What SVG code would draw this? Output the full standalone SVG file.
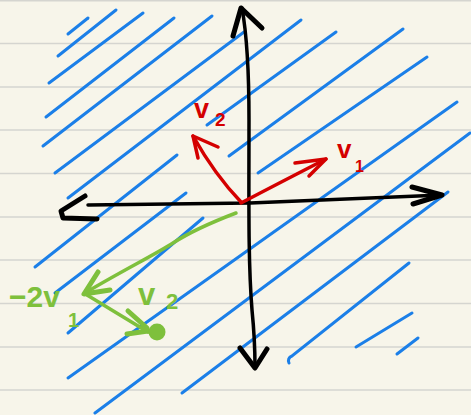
<svg xmlns="http://www.w3.org/2000/svg" width="471" height="415" viewBox="0 0 471 415">
<style>
.rule{stroke:#d5d5d0;stroke-width:1.6}
.hatch line,.hatch path{stroke:#1b7fe8;stroke-width:3;stroke-linecap:round;fill:none}
.ax{stroke:#000;stroke-width:3.5;fill:none;stroke-linecap:round;stroke-linejoin:round}
.axh{stroke:#000;stroke-width:5;fill:none;stroke-linecap:round;stroke-linejoin:round}
.red{stroke:#d40000;stroke-width:3.5;fill:none;stroke-linecap:round;stroke-linejoin:round}
.grn{stroke:#7ec03c;stroke-width:3.5;fill:none;stroke-linecap:round;stroke-linejoin:round}
.tr{fill:#d40000;font-family:"Liberation Sans",sans-serif;font-weight:bold}
.tg{fill:#7ec03c;font-family:"Liberation Sans",sans-serif;font-weight:bold}
</style>
<rect width="471" height="415" fill="#f7f5ea"/>
<g id="ruling">
<line class="rule" x1="0" y1="0.8" x2="471" y2="0.8"/>
<line class="rule" x1="0" y1="43.5" x2="471" y2="43.5"/>
<line class="rule" x1="0" y1="87" x2="471" y2="87"/>
<line class="rule" x1="0" y1="130" x2="471" y2="130"/>
<line class="rule" x1="0" y1="173.5" x2="471" y2="173.5"/>
<line class="rule" x1="0" y1="217" x2="471" y2="217"/>
<line class="rule" x1="0" y1="260" x2="471" y2="260"/>
<line class="rule" x1="0" y1="303.5" x2="471" y2="303.5"/>
<line class="rule" x1="0" y1="347" x2="471" y2="347"/>
<line class="rule" x1="0" y1="390" x2="471" y2="390"/>
</g>
<g id="hatch" class="hatch">
<line x1="68" y1="34" x2="88" y2="18"/>
<line x1="58" y1="56" x2="116" y2="10"/>
<line x1="49" y1="83" x2="143" y2="13"/>
<line x1="46" y1="117" x2="174" y2="18"/>
<line x1="43" y1="146" x2="212" y2="16"/>
<line x1="55" y1="173" x2="244" y2="32"/>
<line x1="68" y1="198" x2="301" y2="20"/>
<line x1="35" y1="267" x2="177" y2="155"/>
<line x1="207" y1="125" x2="336" y2="32"/>
<line x1="55" y1="293" x2="186" y2="193"/>
<line x1="229" y1="156" x2="403" y2="29"/>
<line x1="68" y1="333" x2="203" y2="218"/>
<line x1="258" y1="173" x2="427" y2="57"/>
<line x1="68" y1="378" x2="457" y2="102"/>
<line x1="95" y1="413" x2="470" y2="133"/>
<line x1="182" y1="393" x2="448" y2="192"/>
<path d="M289,363 Q287,358 292,356 L409,263"/>
<line x1="356" y1="347" x2="412" y2="313"/>
<line x1="397" y1="354" x2="418" y2="338"/>
</g>
<g id="axes">
<path class="ax" d="M88,205 L250,203 L442,195"/>
<path class="axh" d="M412,187 L442,195 L413,204"/>
<path class="axh" d="M85,196 L61,211 L63,218 L97,219"/>
<path class="ax" d="M242,8 C246,30 249,60 249,120 C249,200 248,260 252,310 C255,340 255,355 255,367"/>
<path class="axh" d="M233,36 L241,8 L262,28"/>
<path class="axh" d="M240,348 L255,368 L267,349"/>
</g>
<g id="v1">
<path class="red" d="M241,203 Q285,180 326,159"/>
<path class="red" d="M295,163 L326,159 L309,176"/>
<text class="tr" font-size="26"><tspan x="337" y="158">v</tspan><tspan x="355" y="172" font-size="16">1</tspan></text>
</g>
<g id="v2">
<path class="red" d="M241,202 Q215,175 193,136"/>
<path class="red" d="M218,147 L193,136 L198,158"/>
<text class="tr" font-size="27"><tspan x="194" y="118">v</tspan><tspan x="215" y="126" font-size="19">2</tspan></text>
</g>
<g id="minus2v1">
<path class="grn" d="M236,213 C215,221 190,232 173,243 S120,272 85,293"/>
<path class="grn" style="stroke-width:5" d="M98,272 L84,294 L110,290"/>
<text class="tg" font-size="30"><tspan x="9" y="307">−2v</tspan><tspan x="68" y="327" font-size="20">1</tspan></text>
</g>
<g id="green-v2">
<path class="grn" d="M87,295 L148,332"/>
<path class="grn" style="stroke-width:5" d="M128,311 L147,328 M127,334 L148,331"/>
<circle cx="157" cy="332" r="8.5" fill="#7ec03c"/>
<text class="tg" font-size="31"><tspan x="138" y="305">v</tspan><tspan x="166" y="309" font-size="22">2</tspan></text>
</g>
</svg>
